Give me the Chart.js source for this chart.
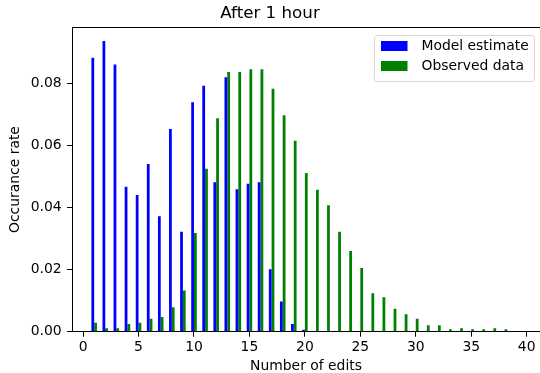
<!DOCTYPE html>
<html>
<head>
<meta charset="utf-8">
<script src="https://cdn.jsdelivr.net/npm/chart.js@4/dist/chart.umd.min.js"></script>
<style>
html, body { margin: 0; padding: 0; background: #ffffff; }
#wrap { width: 540px; height: 373px; }
canvas { display: block; }
</style>
</head>
<body>
<div id="wrap"><canvas id="chart" width="540" height="373"></canvas></div>
<script>
// ---- data ----
const edits = [1,2,3,4,5,6,7,8,9,10,11,12,13,14,15,16,17,18,19,20,
               21,22,23,24,25,26,27,28,29,30,31,32,33,34,35,36,37,38];
const modelEstimate = [0.0882,0.0936,0.0860,0.0467,0.0440,0.0540,0.0372,0.0653,0.0322,0.0739,
                       0.0792,0.0481,0.0819,0.0459,0.0476,0.0481,0.0201,0.0097,0.0025,0.0006];
const observedData = [0.0029,0.0011,0.0011,0.0025,0.0029,0.0042,0.0047,0.0079,0.0133,0.0318,
                      0.0525,0.0687,0.0836,0.0836,0.0845,0.0845,0.0782,0.0697,0.0615,0.0511,
                      0.0457,0.0407,0.0322,0.0260,0.0205,0.0124,0.0111,0.0074,0.0056,0.0042,
                      0.0021,0.0021,0.0008,0.0011,0.0008,0.0008,0.0011,0.0008];
const xTicks = [0,5,10,15,20,25,30,35,40];
const yTicks = [0.00,0.02,0.04,0.06,0.08];
const seriesNames = ['Model estimate', 'Observed data'];
const titleText = 'After 1 hour';
const xTitle = 'Number of edits';
const yTitle = 'Occurance rate';

// ---- styling ----
const FAMILY = "'DejaVu Sans', sans-serif";
const BLUE = '#0000ff';
const GREEN = '#008000';
const LEGEND_FONT = 13.9;

Chart.defaults.font.family = FAMILY;
Chart.defaults.color = '#000000';

function legendIcon(color) {
  const c = document.createElement('canvas');
  c.width = 34; c.height = 10;
  const g = c.getContext('2d');
  g.fillStyle = color;
  g.fillRect(0, 0, 27, 10);
  return c;
}
const icons = [legendIcon(BLUE), legendIcon(GREEN)];

const legendPlacer = {
  id: 'legendPlacer',
  afterLayout(chart) {
    const lg = chart.legend;
    const ca = chart.chartArea;
    if (!lg || !lg.legendHitBoxes) return;
    const pad = lg.options.labels.padding;
    const maxW = Math.max(...lg.legendHitBoxes.map(h => h.width));
    const frameRight = ca.right - 5.7;
    const frameTop = ca.top + 7.2;
    const frameW = 6.5 + maxW + 5.5;
    const frameLeft = Math.round(frameRight - frameW);
    lg.left = frameLeft + 6.5 - pad;
    lg.top = frameTop + 4.6 - pad;
    lg.right = lg.left + frameW + pad;
    lg.bottom = ca.bottom;
    lg.width = lg.right - lg.left;
    lg.height = lg.bottom - lg.top;
    chart.$frame = {x: frameLeft, y: frameTop, w: frameW, h: 46};
  },
  beforeDraw(chart) {
    const ctx = chart.ctx;
    ctx.save();
    ctx.fillStyle = '#ffffff';
    ctx.fillRect(0, 0, chart.width, chart.height);
    const f = chart.$frame;
    if (f) {
      const x = f.x + 0.5, y = Math.round(f.y) + 0.5, w = Math.round(f.w), h = f.h, r = 2.8;
      ctx.beginPath();
      ctx.moveTo(x + r, y);
      ctx.lineTo(x + w - r, y);
      ctx.arcTo(x + w, y, x + w, y + r, r);
      ctx.lineTo(x + w, y + h - r);
      ctx.arcTo(x + w, y + h, x + w - r, y + h, r);
      ctx.lineTo(x + r, y + h);
      ctx.arcTo(x, y + h, x, y + h - r, r);
      ctx.lineTo(x, y + r);
      ctx.arcTo(x, y, x + r, y, r);
      ctx.closePath();
      ctx.fillStyle = 'rgba(255,255,255,0.8)';
      ctx.fill();
      ctx.strokeStyle = '#d6d6d6';
      ctx.lineWidth = 1;
      ctx.stroke();
    }
    ctx.restore();
  },
  afterDraw(chart) {
    const ctx = chart.ctx, ca = chart.chartArea;
    ctx.save();
    ctx.strokeStyle = '#000000';
    ctx.lineWidth = 1;
    ctx.beginPath();
    const y = Math.round(ca.top) + 0.5;
    ctx.moveTo(ca.left, y);
    ctx.lineTo(ca.right, y);
    ctx.stroke();
    ctx.restore();
  }
};

const barCommon = {borderWidth: 0, categoryPercentage: 0.5, barPercentage: 1.0};

new Chart(document.getElementById('chart'), {
  type: 'bar',
  data: {
    datasets: [
      Object.assign({
        label: seriesNames[0],
        data: modelEstimate.map((v, i) => ({x: edits[i], y: v})),
        backgroundColor: BLUE
      }, barCommon),
      Object.assign({
        label: seriesNames[1],
        data: observedData.map((v, i) => ({x: edits[i], y: v})),
        backgroundColor: GREEN
      }, barCommon)
    ]
  },
  options: {
    responsive: false,
    animation: false,
    devicePixelRatio: 1,
    layout: {padding: {left: 0, right: 0, top: 0, bottom: 0}},
    plugins: {
      title: {
        display: true,
        text: titleText,
        color: '#000000',
        font: {family: FAMILY, size: 16.7, weight: 'normal', lineHeight: 1.2},
        padding: {top: 3.2, bottom: 4.1}
      },
      legend: {
        position: 'chartArea',
        align: 'start',
        labels: {
          usePointStyle: true,
          pointStyleWidth: 34,
          boxHeight: 10,
          padding: 6.5,
          color: '#000000',
          font: {family: FAMILY, size: LEGEND_FONT},
          generateLabels(chart) {
            const items = Chart.defaults.plugins.legend.labels.generateLabels(chart);
            items.forEach((it, i) => { it.pointStyle = icons[i]; });
            return items;
          }
        }
      },
      tooltip: {enabled: false}
    },
    scales: {
      x: {
        type: 'linear',
        min: -1,
        max: 41.2,
        offset: false,
        afterBuildTicks(scale) { scale.ticks = xTicks.map(v => ({value: v})); },
        afterFit(scale) { scale.height = 41.3; },
        grid: {display: true, drawOnChartArea: false, drawTicks: true, tickLength: 5, color: '#000000', offset: false},
        border: {display: true, color: '#000000', width: 1},
        ticks: {
          autoSkip: false, maxRotation: 0, minRotation: 0, padding: 2.8, color: '#000000',
          font: {family: FAMILY, size: 13.9},
          callback: (v) => String(v)
        },
        title: {
          display: true, text: xTitle, color: '#000000',
          font: {family: FAMILY, size: 13.9, lineHeight: 1.0},
          padding: {top: 0, bottom: 0}
        }
      },
      y: {
        type: 'linear',
        min: 0,
        max: 0.098,
        afterBuildTicks(scale) { scale.ticks = yTicks.map(v => ({value: v})); },
        afterFit(scale) { scale.width = 72; },
        grid: {display: true, drawOnChartArea: false, drawTicks: true, tickLength: 5, color: '#000000'},
        border: {display: true, color: '#000000', width: 1},
        ticks: {
          padding: 5.3, color: '#000000',
          font: {family: FAMILY, size: 13.9},
          callback: (v) => Number(v).toFixed(2)
        },
        title: {
          display: true, text: yTitle, color: '#000000',
          font: {family: FAMILY, size: 13.9, lineHeight: 1.2},
          padding: {top: 6.6, bottom: 0}
        }
      }
    }
  },
  plugins: [legendPlacer]
});
</script>
</body>
</html>
